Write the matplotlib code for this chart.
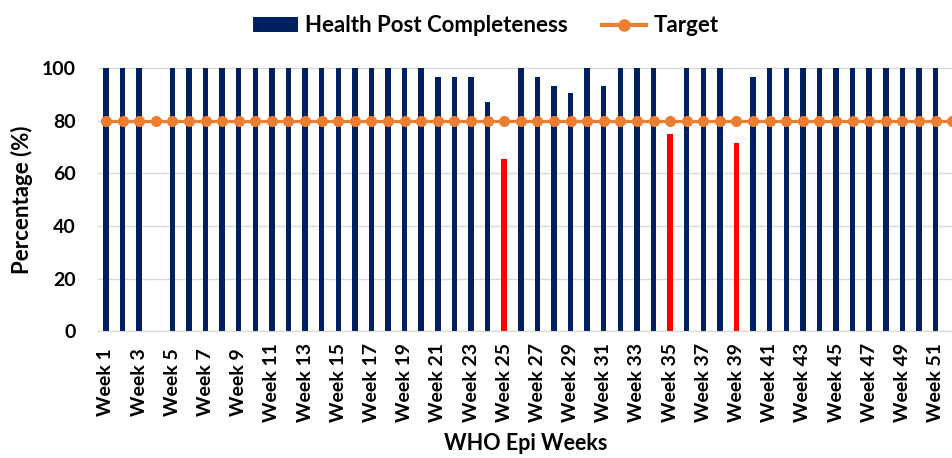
import matplotlib
matplotlib.use("Agg")
import matplotlib.pyplot as plt
from matplotlib.lines import Line2D
from matplotlib.patches import Patch

plt.rcParams['font.family'] = ['Lato', 'DejaVu Sans']

weeks = list(range(1, 53))
completeness = [100, 100, 100, 0, 100, 100, 100, 100, 100, 100,
                100, 100, 100, 100, 100, 100, 100, 100, 100, 100,
                96.7, 96.7, 96.7, 87, 65.5, 100, 96.7, 93.3, 90.4, 100,
                93.3, 100, 100, 100, 74.8, 100, 100, 100, 71.5, 96.7,
                100, 100, 100, 100, 100, 100, 100, 100, 100, 100, 100]
target = [80] * 52
threshold = 80
tick_weeks = list(range(1, 52, 2))
tick_labels = [f"Week {w}" for w in tick_weeks]

navy = '#002060'
red = '#FF0000'
orange = '#ED7D31'

fig = plt.figure(figsize=(9.53, 4.58), dpi=100)
ax = fig.add_axes([0.1025, 0.277, 0.8975, 0.574])

bar_weeks = weeks[:len(completeness)]
colors = [red if 0 < v < threshold else navy for v in completeness]
ax.bar(bar_weeks, completeness, width=0.33, color=colors, zorder=2)
ax.plot(weeks, target, color=orange, lw=2.3, marker='o', ms=7, zorder=3)

ax.set_xlim(0.5, 52.05)
ax.set_ylim(0, 100)
ax.set_yticks([0, 20, 40, 60, 80, 100])
ax.set_xticks(tick_weeks)
ax.set_xticklabels(tick_labels, rotation=90, fontsize=14, fontweight='bold', va='center')
ax.tick_params(axis='y', labelsize=14, length=0, pad=16)
ax.tick_params(axis='x', length=0, pad=37)
for lab in ax.get_yticklabels():
    lab.set_fontweight('bold')
ax.grid(axis='y', color='#D9D9D9', lw=1, zorder=0)
for s in ['top', 'right', 'left']:
    ax.spines[s].set_visible(False)
ax.spines['bottom'].set_color('#D9D9D9')

ax.set_ylabel('Percentage (%)', fontsize=16, fontweight='bold', labelpad=6)
ax.set_xlabel('WHO Epi Weeks', fontsize=15.5, fontweight='bold', labelpad=8)

handles = [Patch(facecolor=navy, label='Health Post Completeness'),
           Line2D([0], [0], color=orange, lw=3, marker='o', ms=8, label='Target')]
fig.legend(handles=handles, loc='upper center', bbox_to_anchor=(0.51, 1.01), ncol=2,
           frameon=False, prop={'weight': 'bold', 'size': 16}, handlelength=2.0,
           handletextpad=0.35, columnspacing=1.5)

fig.savefig('out.png', dpi=100)
